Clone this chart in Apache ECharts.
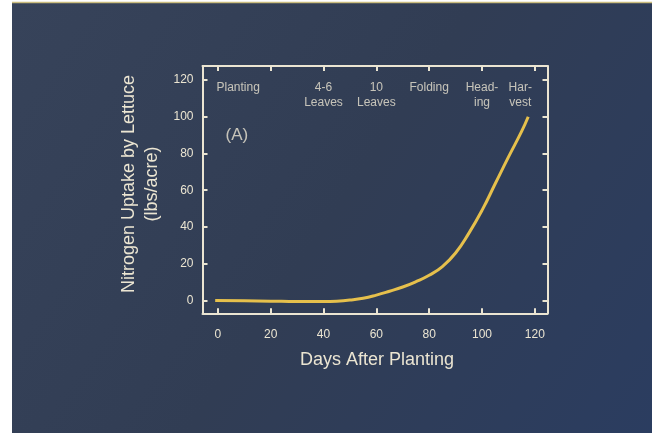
<!DOCTYPE html>
<html>
<head>
<meta charset="utf-8">
<script src="https://cdn.jsdelivr.net/npm/echarts@6/dist/echarts.min.js"></script>
<style>
html,body{margin:0;padding:0;background:#ffffff;}
#c{width:652px;height:436px;}
</style>
</head>
<body>
<div id="c"></div>
<script>
// ---- data ----
const days   = [-1, 10, 20, 30, 40, 45, 50, 55, 60, 65, 70, 75, 80, 85, 90, 95, 100, 105, 110, 115, 117.5];
const uptake = [0, -0.2, -0.4, -0.6, -0.6, -0.4, 0.2, 1.2, 2.9, 5, 7.3, 10.2, 13.7, 18.4, 25.8, 36.5, 49, 63.5, 78, 92, 100];
const xTicks = [0, 20, 40, 60, 80, 100, 120];
const yTicks = [0, 20, 40, 60, 80, 100, 120];
const stageNames = ['Planting', '4-6\nLeaves', '10\nLeaves', 'Folding', 'Head-\ning', 'Har-\nvest'];
const stageDays  = [7.7, 40, 60, 80, 100, 114.5];
const stageLevel = 120;
const panelLabel = '(A)';
const panelDay = 7.2;
const panelValue = 90;
const xTitle = 'Days After Planting';
const yTitle1 = 'Nitrogen Uptake by Lettuce';
const yTitle2 = '(lbs/acre)';

const C = '#ebe5d2';
const FONT = '"Liberation Sans", Arial, Helvetica, sans-serif';

const chart = echarts.init(document.getElementById('c'), null, {renderer: 'canvas'});

function xAxisDef(pos, labels) {
  return {
    type: 'value', min: -5.8, max: 124.8, position: pos, gridIndex: 0,
    axisLine: {show: true, onZero: false, lineStyle: {color: C, width: 2}},
    axisTick: {show: true, inside: true, length: 5, customValues: xTicks, lineStyle: {color: C, width: 2}},
    axisLabel: {show: labels, customValues: xTicks, color: C, fontSize: 12, fontFamily: FONT, margin: 15},
    splitLine: {show: false}
  };
}
function yAxisDef(pos, labels) {
  return {
    type: 'value', min: -7, max: 127.6, position: pos, gridIndex: 0,
    axisLine: {show: true, onZero: false, lineStyle: {color: C, width: 2}},
    axisTick: {show: true, inside: true, length: 5, customValues: yTicks, lineStyle: {color: C, width: 2}},
    axisLabel: {show: labels, customValues: yTicks, color: C, fontSize: 12, fontFamily: FONT, margin: 9},
    splitLine: {show: false}
  };
}

const option = {
  animation: false,
  backgroundColor: 'transparent',
  graphic: [
    {type: 'rect', z: -100, silent: true, shape: {x: 12, y: 3, width: 640, height: 430},
     style: {fill: {type: 'linear', x: 0, y: 0, x2: 1, y2: 1,
       colorStops: [{offset: 0, color: '#37435a'}, {offset: 0.5, color: '#313d54'}, {offset: 1, color: '#2b3d60'}]}}},
    {type: 'line', z: -99, silent: true, shape: {x1: 12, y1: 2.5, x2: 652, y2: 2.5},
     style: {stroke: '#cbbd7e', lineWidth: 1.5}},
    {type: 'text', x: 377, y: 360, silent: true,
     style: {text: xTitle, fill: C, font: '18px ' + FONT, textAlign: 'center', textVerticalAlign: 'middle'}},
    {type: 'text', x: 129, y: 184, rotation: Math.PI / 2, silent: true,
     style: {text: yTitle1, fill: C, font: '18px ' + FONT, textAlign: 'center', textVerticalAlign: 'middle'}},
    {type: 'text', x: 152, y: 184, rotation: Math.PI / 2, silent: true,
     style: {text: yTitle2, fill: C, font: '18px ' + FONT, textAlign: 'center', textVerticalAlign: 'middle'}}
  ],
  grid: {left: 202.5, right: 104.5, top: 66, bottom: 122.7, containLabel: false, show: false},
  xAxis: [xAxisDef('bottom', true), xAxisDef('top', false)],
  yAxis: [yAxisDef('left', true), yAxisDef('right', false)],
  series: [
    {
      type: 'line', xAxisIndex: 0, yAxisIndex: 0,
      data: days.map((d, i) => [d, uptake[i]]),
      smooth: 0.5, symbol: 'none',
      lineStyle: {color: '#e6c04c', width: 3}
    },
    {
      type: 'scatter', xAxisIndex: 0, yAxisIndex: 0, symbolSize: 0,
      data: stageDays.map((d, i) => ({value: [d, stageLevel], name: stageNames[i]})),
      label: {show: true, position: 'bottom', distance: 0, formatter: p => p.name,
              color: C, fontSize: 12, lineHeight: 15, fontFamily: FONT, align: 'center'}
    },
    {
      type: 'scatter', xAxisIndex: 0, yAxisIndex: 0, symbolSize: 0,
      data: [{value: [panelDay, panelValue], name: panelLabel}],
      label: {show: true, position: 'inside', formatter: p => p.name,
              color: C, fontSize: 17, fontFamily: FONT}
    }
  ]
};
chart.setOption(option);
</script>
</body>
</html>
